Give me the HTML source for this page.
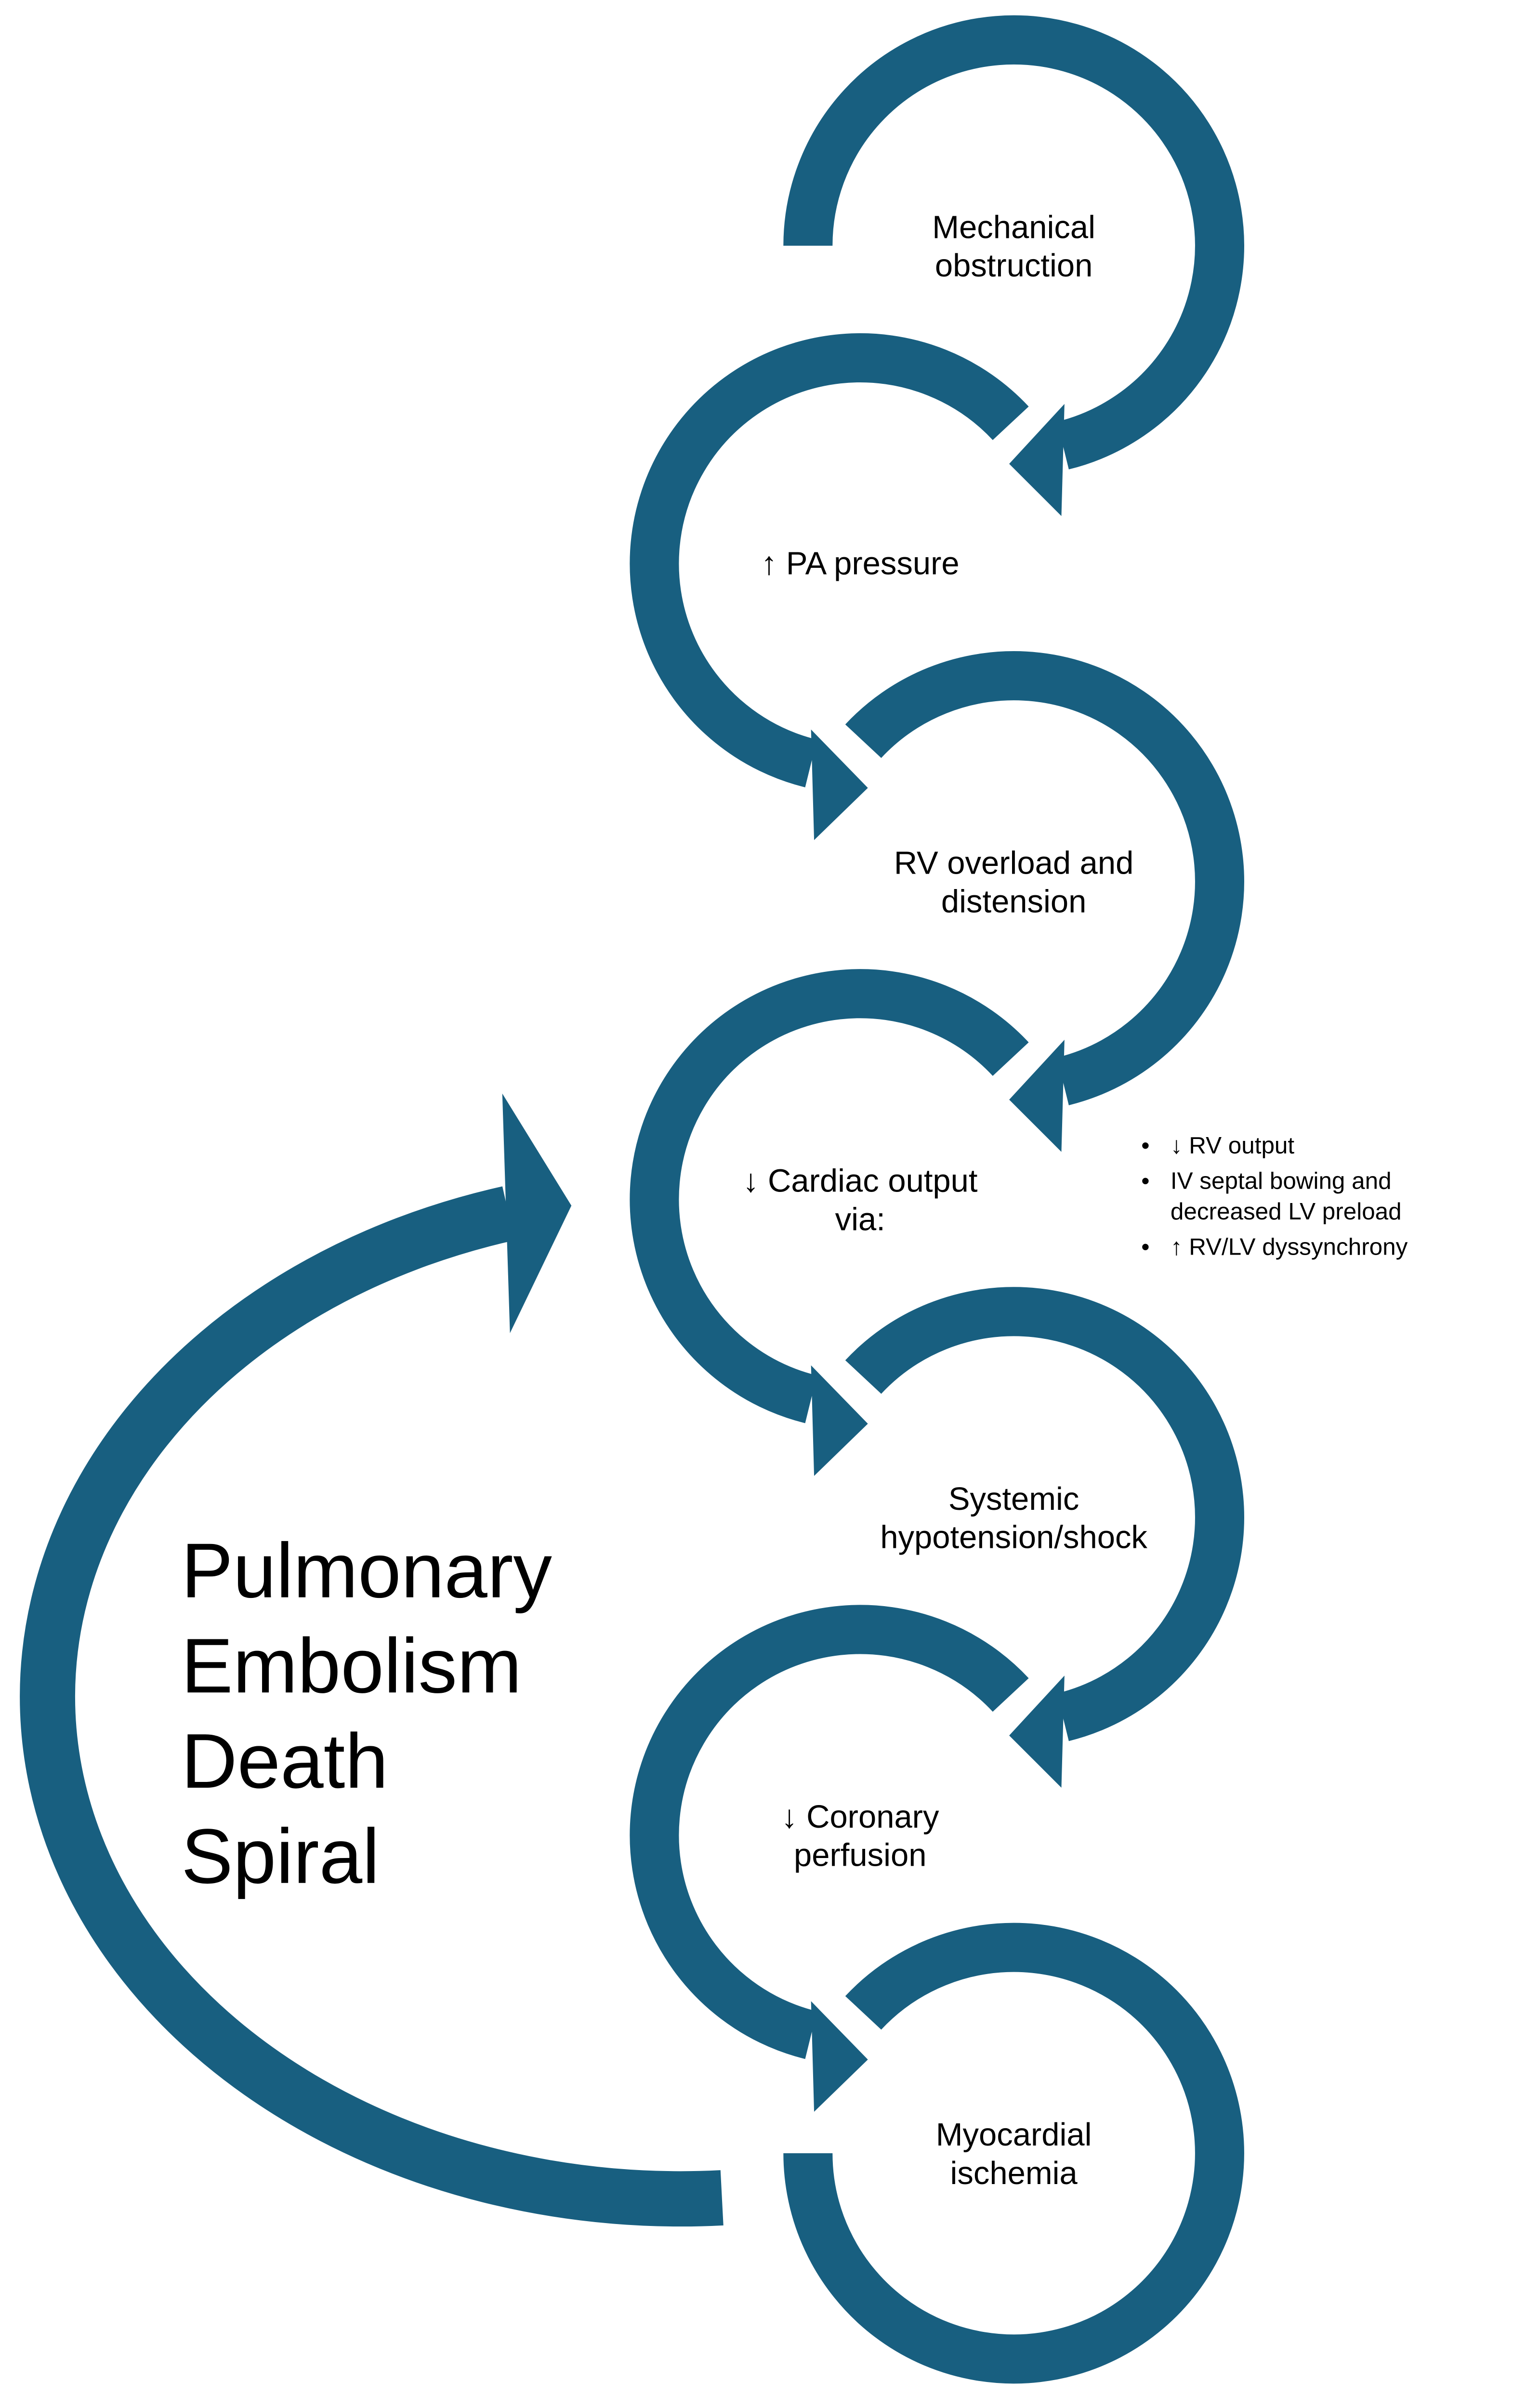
<!DOCTYPE html>
<html>
<head>
<meta charset="utf-8">
<style>
html,body{margin:0;padding:0;background:#fff;width:3141px;height:5230px;overflow:hidden;}
svg{display:block;}
text{font-family:"Liberation Sans",sans-serif;fill:#000;}
</style>
</head>
<body>
<svg width="3141" height="5230" viewBox="0 0 985 1640" preserveAspectRatio="none" xmlns="http://www.w3.org/2000/svg">
<rect width="985" height="1640" fill="#fff"/>
<g fill="none" stroke="#185f80" stroke-width="32" stroke-linecap="butt">
<path d="M526 160 A134 134 0 1 1 692 290.1"/>
<path d="M658 275.6 A134 134 0 1 0 528 497.1"/>
<path d="M562 482.6 A134 134 0 1 1 692 704.1"/>
<path d="M658 689.6 A134 134 0 1 0 528 911.1"/>
<path d="M562 896.6 A134 134 0 1 1 692 1118.1"/>
<path d="M658 1103.6 A134 134 0 1 0 528 1325.1"/>
<path d="M562 1310.6 A134 134 0 1 1 526 1402"/>
<path d="M470 1431 A412 327 0 0 1 331 790" stroke-width="36"/>
</g>
<g fill="#185f80">
<polygon points="693,263 691,336 657,302"/>
<polygon points="528,475 530,547 565,513"/>
<polygon points="693,677 691,750 657,716"/>
<polygon points="528,889 530,961 565,927"/>
<polygon points="693,1091 691,1164 657,1130"/>
<polygon points="528,1303 530,1375 565,1341"/>
<polygon points="327,712 372,785 332,868"/>
</g>
<g font-size="21" text-anchor="middle">
<text x="660" y="155">Mechanical</text>
<text x="660" y="180">obstruction</text>
<text x="560" y="374">↑ PA pressure</text>
<text x="660" y="569">RV overload and</text>
<text x="660" y="594">distension</text>
<text x="560" y="776">↓ Cardiac output</text>
<text x="560" y="801">via:</text>
<text x="660" y="983">Systemic</text>
<text x="660" y="1008">hypotension/shock</text>
<text x="560" y="1190">↓ Coronary</text>
<text x="560" y="1215">perfusion</text>
<text x="660" y="1397">Myocardial</text>
<text x="660" y="1422">ischemia</text>
</g>
<g font-size="15.5">
<text x="743" y="751">•</text>
<text x="762" y="751">↓ RV output</text>
<text x="743" y="774">•</text>
<text x="762" y="774">IV septal bowing and</text>
<text x="762" y="794">decreased LV preload</text>
<text x="743" y="817">•</text>
<text x="762" y="817">↑ RV/LV dyssynchrony</text>
</g>
<g font-size="50.5">
<text x="118" y="1040">Pulmonary</text>
<text x="118" y="1102">Embolism</text>
<text x="118" y="1164">Death</text>
<text x="118" y="1226">Spiral</text>
</g>
</svg>
</body>
</html>
